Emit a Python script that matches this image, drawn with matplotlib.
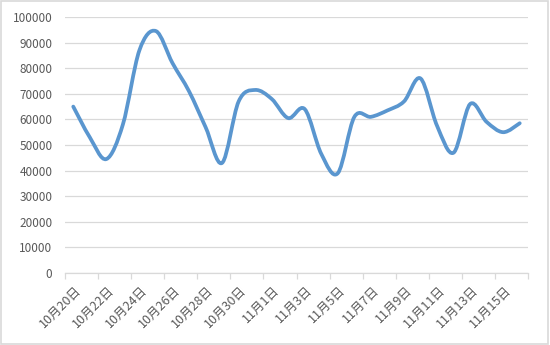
import matplotlib
matplotlib.use("Agg")
import matplotlib.pyplot as plt
import numpy as np
from matplotlib.path import Path
from matplotlib.patches import PathPatch, Rectangle

plt.rcParams['font.family'] = ['Noto Sans CJK SC', 'DejaVu Sans']

# daily values, 10月20日 .. 11月16日
days = ['10月20日', '10月21日', '10月22日', '10月23日', '10月24日', '10月25日',
        '10月26日', '10月27日', '10月28日', '10月29日', '10月30日', '10月31日',
        '11月1日', '11月2日', '11月3日', '11月4日', '11月5日', '11月6日',
        '11月7日', '11月8日', '11月9日', '11月10日', '11月11日', '11月12日',
        '11月13日', '11月14日', '11月15日', '11月16日']
values = [65000, 53000, 44500, 58000, 87000, 94500, 82000, 71000,
          57000, 43000, 67000, 71500, 68000, 60500, 64000, 46500,
          39000, 61000, 61000, 63500, 67000, 76000, 57500, 47000,
          66000, 59000, 55000, 58500]
yticks = np.arange(0, 100001, 10000)

LINE = '#5A96CF'
GRID = '#D9D9D9'
TXT = '#595959'

fig = plt.figure(figsize=(5.5, 3.45), dpi=100)
ax = fig.add_axes([65 / 550, 72 / 345, 463 / 550, 256 / 345])

# smoothed line (Catmull-Rom as cubic Bezier, like Excel's smoothed line)
x = np.arange(len(values), dtype=float)
y = np.array(values, dtype=float)
px = np.concatenate([[x[0]], x, [x[-1]]])
py = np.concatenate([[y[0]], y, [y[-1]]])
verts = [(x[0], y[0])]
codes = [Path.MOVETO]
for i in range(1, len(px) - 2):
    c1 = (px[i] + (px[i + 1] - px[i - 1]) / 6, py[i] + (py[i + 1] - py[i - 1]) / 6)
    c2 = (px[i + 1] - (px[i + 2] - px[i]) / 6, py[i + 1] - (py[i + 2] - py[i]) / 6)
    verts += [c1, c2, (px[i + 1], py[i + 1])]
    codes += [Path.CURVE4] * 3
ax.add_patch(PathPatch(Path(verts, codes), facecolor='none', edgecolor=LINE,
                       lw=2.7, capstyle='round', joinstyle='round', zorder=3))

ax.set_xlim(-0.5, len(values) - 0.5)
ax.set_ylim(0, 100000)
ax.set_yticks(yticks)
ax.set_yticklabels([str(v) for v in yticks], color=TXT, fontsize=8.5)
ax.grid(axis='y', color=GRID, lw=0.9)
ax.set_axisbelow(True)

ax.set_xticks(np.arange(-0.5, len(values), 2))
ax.set_xticklabels([])
ax.tick_params(axis='x', length=4, color=GRID, width=0.9)
ax.tick_params(axis='y', length=0, pad=9)

for i in range(0, len(days), 2):
    ax.text(i + 0.35, -6000, days[i], rotation=45, rotation_mode='anchor',
            ha='right', va='center', fontsize=9, color=TXT)

for s in ['top', 'right', 'left']:
    ax.spines[s].set_visible(False)
ax.spines['bottom'].set_color(GRID)
ax.spines['bottom'].set_linewidth(0.9)

fig.patches.append(Rectangle((0.002, 0.003), 0.995, 0.994, transform=fig.transFigure,
                             fill=False, edgecolor=GRID, lw=1.2))

fig.savefig('out.png', dpi=100)
